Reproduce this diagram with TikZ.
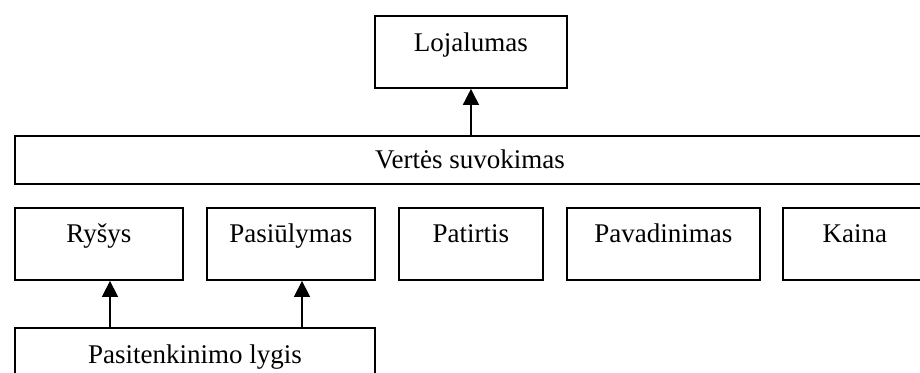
\documentclass[tikz,border=0pt]{standalone}
\usepackage{fontspec}
\setmainfont{Liberation Serif}
\usetikzlibrary{arrows.meta,calc}

\begin{document}
\begin{tikzpicture}[x=1pt,y=-1pt,
  box/.style={draw=black,line width=1.9pt,rectangle,inner sep=0pt,anchor=north west},
  txt/.style={anchor=base,inner sep=0pt,font=\fontsize{27}{31}\selectfont},
  arr/.style={line width=1.5pt,-{Triangle[length=16pt,width=16pt]}}]
\useasboundingbox (0,0) rectangle (920,372);
\clip (0,0) rectangle (920,372);

% top level
\node[box,minimum width=192pt,minimum height=72pt] (loj) at (374,15) {};
\node[txt] at ($(loj.north)+(0,36)$) {Lojalumas};

% wide middle bar
\node[box,minimum width=912pt,minimum height=48pt] (vert) at (14,135) {};
\node[txt] at (470,168) {Vertės suvokimas};

% row of factors
\node[box,minimum width=168pt,minimum height=72pt] (rys) at (14,207) {};
\node[box,minimum width=168pt,minimum height=72pt] (pas) at (206,207) {};
\node[box,minimum width=144pt,minimum height=72pt] (pat) at (398,207) {};
\node[box,minimum width=193pt,minimum height=72pt] (pav) at (566,207) {};
\node[box,minimum width=144pt,minimum height=72pt] (kai) at (782,207) {};
\node[txt] at ($(rys.north)+(0,35)$) {Ryšys};
\node[txt] at ($(pas.north)+(0,35)$) {Pasiūlymas};
\node[txt] at ($(pat.north)+(0,35)$) {Patirtis};
\node[txt] at ($(pav.north)+(0,35)$) {Pavadinimas};
\node[txt] at ($(kai.north)+(0,35)$) {Kaina};

% bottom box
\node[box,minimum width=360pt,minimum height=72pt] (lyg) at (14,327) {};
\node[txt] at ($(lyg.north)+(0,36)$) {Pasitenkinimo lygis};

% connectors
\draw[arr] (vert.north -| loj.south) -- (loj.south);
\draw[arr] (lyg.north -| 110,0) -- (rys.south -| 110,0);
\draw[arr] (lyg.north -| 302,0) -- (pas.south -| 302,0);
\end{tikzpicture}
\end{document}
